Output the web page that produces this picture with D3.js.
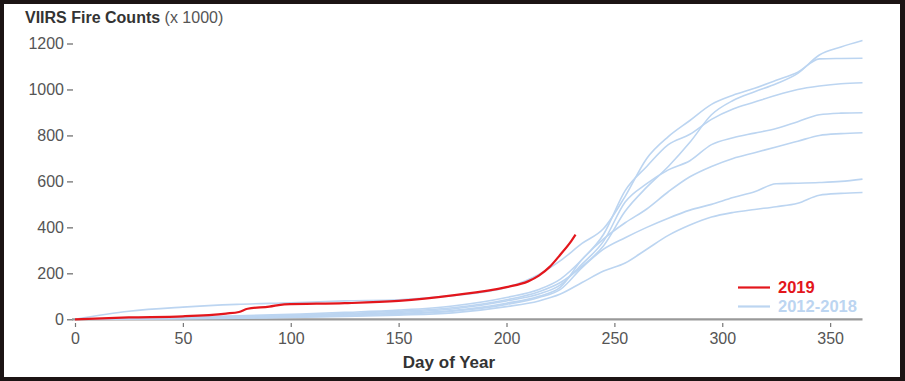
<!DOCTYPE html>
<html lang="en">
<head>
<meta charset="UTF-8">
<title>VIIRS Fire Counts</title>
<script src="https://d3js.org/d3.v7.min.js"></script>
<style>
  body { margin: 0; background: #1c1414; }
  svg { display: block; font-family: "Liberation Sans", Arial, sans-serif; }
</style>
</head>
<body>
<div id="chart"></div>
<script>
// day grid shared by the 2012-2018 series
const days = [0, 25, 50, 75, 100, 125, 150, 175, 200, 215, 225, 235, 245, 255, 265, 275, 285, 295, 305, 315, 325, 335, 345, 355, 365];

// cumulative fire counts (x 1000)
const fires2012 = [0, 35, 53, 65, 72, 80, 85, 103, 138, 195, 255, 330, 395, 535, 700, 795, 865, 935, 975, 1005, 1040, 1075, 1133, 1135, 1136];
const fires2013 = [0, 3, 8, 12, 18, 25, 35, 50, 85, 120, 160, 230, 320, 470, 575, 665, 770, 890, 952, 990, 1025, 1070, 1150, 1185, 1213];
const fires2014 = [0, 4, 10, 15, 22, 30, 40, 58, 95, 130, 175, 260, 370, 560, 665, 760, 805, 870, 915, 945, 975, 1000, 1015, 1025, 1029];
const fires2015 = [0, 3, 7, 10, 15, 22, 30, 45, 80, 110, 150, 240, 340, 510, 590, 650, 690, 760, 790, 810, 830, 860, 890, 897, 899];
const fires2016 = [0, 2, 5, 8, 12, 18, 25, 38, 70, 100, 140, 260, 350, 420, 480, 555, 620, 665, 700, 725, 750, 775, 800, 808, 812];
const fires2017 = [0, 2, 4, 6, 10, 15, 22, 35, 65, 95, 130, 225, 305, 355, 400, 440, 475, 500, 530, 555, 590, 592, 595, 600, 610];
const fires2018 = [0, 1, 3, 5, 8, 12, 18, 28, 55, 80, 110, 160, 210, 245, 305, 365, 410, 445, 465, 478, 490, 505, 540, 548, 552];

// 2019 (partial year)
const days2019 = [0, 25, 50, 70, 76, 80, 90, 97, 125, 150, 175, 200, 210, 215, 220, 225, 230, 232];
const fires2019 = [0, 8, 13, 25, 32, 46, 55, 65, 70, 80, 104, 140, 165, 190, 228, 282, 340, 368];

const xTicks = [0, 50, 100, 150, 200, 250, 300, 350];
const yTicks = [0, 200, 400, 600, 800, 1000, 1200];

const width = 905, height = 381;
const red = "#e3161c", blue = "#bcd5f1";

const svg = d3.select("#chart").append("svg")
    .attr("width", width)
    .attr("height", height);

// white panel of the screenshot
svg.append("rect").attr("x", 4).attr("y", 4).attr("width", 896).attr("height", 373).attr("fill", "#fff");

const x = d3.scaleLinear().domain([0, 365]).range([75, 862.5]);
const y = d3.scaleLinear().domain([0, 1200]).range([319.3, 43.5]);

// title
const title = svg.append("text").attr("x", 25).attr("y", 23).attr("font-size", 16);
title.append("tspan").attr("font-weight", "bold").attr("fill", "#333").text("VIIRS Fire Counts");
title.append("tspan").attr("fill", "#555").text(" (x 1000)");

// y axis
svg.append("g")
    .attr("transform", "translate(73,0)")
    .call(d3.axisLeft(y).tickValues(yTicks).tickFormat(d3.format("d")).tickSize(6).tickPadding(3))
    .call(g => g.select(".domain").remove())
    .call(g => g.selectAll("line").attr("stroke", "#666").attr("stroke-width", 1.2))
    .call(g => g.selectAll("text").attr("font-size", 16).attr("fill", "#555")
        .attr("font-family", "'Liberation Sans', Arial, sans-serif"));

// x axis: baseline plus small detached ticks
svg.append("line")
    .attr("x1", 72).attr("x2", x(365))
    .attr("y1", y(0)).attr("y2", y(0))
    .attr("stroke", "#999").attr("stroke-width", 2.2);

svg.append("g")
    .attr("transform", "translate(0,323)")
    .call(d3.axisBottom(x).tickValues(xTicks).tickSize(4).tickPadding(6))
    .call(g => g.select(".domain").remove())
    .call(g => g.selectAll("line").attr("stroke", "#777").attr("stroke-width", 1.2))
    .call(g => g.selectAll("text").attr("font-size", 16).attr("fill", "#555")
        .attr("font-family", "'Liberation Sans', Arial, sans-serif"));

svg.append("text")
    .attr("x", 449).attr("y", 368)
    .attr("text-anchor", "middle")
    .attr("font-size", 17).attr("font-weight", "bold").attr("fill", "#333")
    .text("Day of Year");

// lines
const line = d3.line()
    .x(d => x(d[0]))
    .y(d => y(d[1]))
    .curve(d3.curveMonotoneX);

const pastYears = [fires2012, fires2013, fires2014, fires2015, fires2016, fires2017, fires2018];

svg.append("g").selectAll("path")
    .data(pastYears)
    .join("path")
    .attr("d", vals => line(days.map((d, i) => [d, vals[i]])))
    .attr("fill", "none")
    .attr("stroke", blue)
    .attr("stroke-width", 1.6);

svg.append("path")
    .attr("d", line(days2019.map((d, i) => [d, fires2019[i]])))
    .attr("fill", "none")
    .attr("stroke", red)
    .attr("stroke-width", 2.2);

// legend
const legend = [
    {label: "2019", color: red, y: 287.5},
    {label: "2012-2018", color: blue, y: 306.5}
];
const lg = svg.append("g").selectAll("g").data(legend).join("g");
lg.append("line")
    .attr("x1", 738).attr("x2", 770)
    .attr("y1", d => d.y).attr("y2", d => d.y)
    .attr("stroke", d => d.color).attr("stroke-width", 2.2);
lg.append("text")
    .attr("x", 778).attr("y", d => d.y + 5.5)
    .attr("font-size", 16.5).attr("font-weight", "bold")
    .attr("fill", d => d.color)
    .text(d => d.label);
</script>
</body>
</html>
